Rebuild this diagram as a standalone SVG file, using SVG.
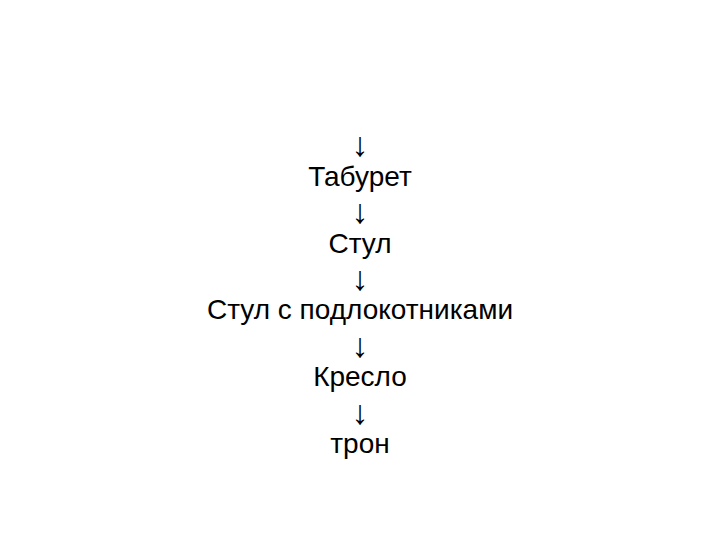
<svg xmlns="http://www.w3.org/2000/svg" width="720" height="540" viewBox="0 0 720 540">
<style>
text{font-family:"Liberation Sans",Arial,sans-serif;font-size:28px;fill:#000;text-anchor:middle}
.arr{font-size:34px}
</style>
<rect width="720" height="540" fill="#fff"/>
<g id="connectors">
<text class="arr" x="360" y="156">↓</text>
<text class="arr" x="360" y="223">↓</text>
<text class="arr" x="360" y="290">↓</text>
<text class="arr" x="360" y="357">↓</text>
<text class="arr" x="360" y="424">↓</text>
</g>
<g id="n1"><text x="360" y="186">Табурет</text></g>
<g id="n2"><text x="360" y="253">Стул</text></g>
<g id="n3"><text x="360" y="319">Стул с подлокотниками</text></g>
<g id="n4"><text x="360" y="386">Кресло</text></g>
<g id="n5"><text x="360" y="453">трон</text></g>
</svg>
